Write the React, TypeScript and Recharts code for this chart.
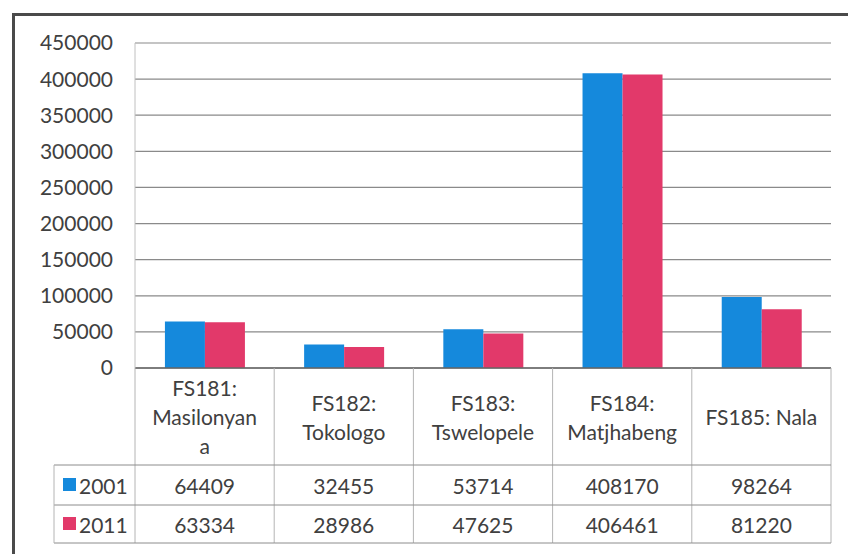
import React from 'react';
import { BarChart, Bar, XAxis, YAxis, CartesianGrid } from 'recharts';

const categories = [
  'FS181: Masilonyana',
  'FS182: Tokologo',
  'FS183: Tswelopele',
  'FS184: Matjhabeng',
  'FS185: Nala',
];
const labelLines = [
  ['FS181:', 'Masilonyan', 'a'],
  ['FS182:', 'Tokologo'],
  ['FS183:', 'Tswelopele'],
  ['FS184:', 'Matjhabeng'],
  ['FS185: Nala'],
];
const seriesNames = ['2001', '2011'];
const values2001 = [64409, 32455, 53714, 408170, 98264];
const values2011 = [63334, 28986, 47625, 406461, 81220];
const yTicks = [0, 50000, 100000, 150000, 200000, 250000, 300000, 350000, 400000, 450000];

const COLORS = ['#1589dc', '#e2396a'];
const FONT = 'Lato, "Liberation Sans", sans-serif';
const TEXT = '#404040';

const data = categories.map((name, i) => ({
  name,
  y2001: values2001[i],
  y2011: values2011[i],
}));
const seriesValues = [values2001, values2011];

const HEADER_H = 97;
const ROW_H = [40, 38];
const LEGEND_W = 81;
const LINE_H = 29;

const TableTick = (props: any) => {
  const { x, y, payload } = props;
  const i: number = payload.index ?? props.index ?? 0;
  const half: number = payload.offset || 69.6;
  const left = x - half;
  const right = x + half;
  const top = y;
  const r1 = top + HEADER_H;
  const r2 = r1 + ROW_H[0];
  const r3 = r2 + ROW_H[1];
  const lines = labelLines[i] || [String(payload.value)];
  const midHeader = top + HEADER_H / 2;
  const startY = midHeader - ((lines.length - 1) * LINE_H) / 2;
  const hStroke = '#8c8c8c';
  const vStroke = '#b4b4b4';
  return (
    <g>
      {i === 0 && <line x1={left} y1={top} x2={left} y2={r3} stroke={vStroke} strokeWidth={1} />}
      <line x1={right} y1={top} x2={right} y2={r3} stroke={vStroke} strokeWidth={1} />
      {lines.map((ln, k) => (
        <text
          key={k}
          x={x}
          y={startY + k * LINE_H}
          textAnchor="middle"
          dominantBaseline="central"
          fontSize={21}
          fontFamily={FONT}
          fill={TEXT}
        >
          {ln}
        </text>
      ))}
      {[r1, r2, r3].map((yy, k) => (
        <line key={'h' + k} x1={i === 0 ? left - LEGEND_W : left} y1={yy} x2={right} y2={yy} stroke={hStroke} strokeWidth={1} />
      ))}
      {seriesValues.map((vals, s) => {
        const cy = s === 0 ? (r1 + r2) / 2 : (r2 + r3) / 2;
        return (
          <text
            key={'v' + s}
            x={x}
            y={cy}
            textAnchor="middle"
            dominantBaseline="central"
            fontSize={21}
            fontFamily={FONT}
            fill={TEXT}
          >
            {vals[i]}
          </text>
        );
      })}
      {i === 0 && (
        <g>
          <line x1={left - LEGEND_W} y1={r1} x2={left - LEGEND_W} y2={r3} stroke={vStroke} strokeWidth={1} />
          {seriesNames.map((nm, s) => {
            const cy = s === 0 ? (r1 + r2) / 2 : (r2 + r3) / 2;
            return (
              <g key={'l' + s}>
                <rect x={left - LEGEND_W + 9} y={cy - 7} width={13} height={13} fill={COLORS[s]} />
                <text
                  x={left - LEGEND_W + 25}
                  y={cy}
                  textAnchor="start"
                  dominantBaseline="central"
                  fontSize={21}
                  fontFamily={FONT}
                  fill={TEXT}
                >
                  {nm}
                </text>
              </g>
            );
          })}
        </g>
      )}
    </g>
  );
};

export default function App() {
  return (
    <div
      style={{
        position: 'absolute',
        left: 0,
        top: 0,
        width: 848,
        height: 554,
        overflow: 'hidden',
        background: '#ffffff',
      }}
    >
      <div
        style={{
          position: 'absolute',
          left: 12,
          top: 13,
          width: 900,
          height: 600,
          borderLeft: '3px solid #4a4a4a',
          borderTop: '3px solid #4a4a4a',
        }}
      />
      <div style={{ position: 'absolute', left: 0, top: 0 }}>
        <BarChart
          width={848}
          height={554}
          data={data}
          margin={{ top: 43, right: 17, bottom: 0, left: 0 }}
          barCategoryGap="21.5%"
          barGap={0}
          style={{ fontFamily: FONT }}
        >
          <CartesianGrid vertical={false} stroke="#8a8a8a" strokeWidth={1.2} />
          <XAxis
            dataKey="name"
            height={186}
            interval={0}
            tickLine={false}
            tickSize={0}
            tickMargin={0}
            axisLine={{ stroke: '#666666', strokeWidth: 1.5 }}
            tick={<TableTick />}
          />
          <YAxis
            width={135}
            domain={[0, 450000]}
            ticks={yTicks}
            interval={0}
            tickLine={false}
            tickSize={0}
            tickMargin={22}
            axisLine={{ stroke: '#c0c0c0' }}
            tick={{ fontSize: 21, fill: TEXT, fontFamily: FONT }}
          />
          <Bar dataKey="y2001" name={seriesNames[0]} fill={COLORS[0]} isAnimationActive={false} />
          <Bar dataKey="y2011" name={seriesNames[1]} fill={COLORS[1]} isAnimationActive={false} />
        </BarChart>
      </div>
    </div>
  );
}
